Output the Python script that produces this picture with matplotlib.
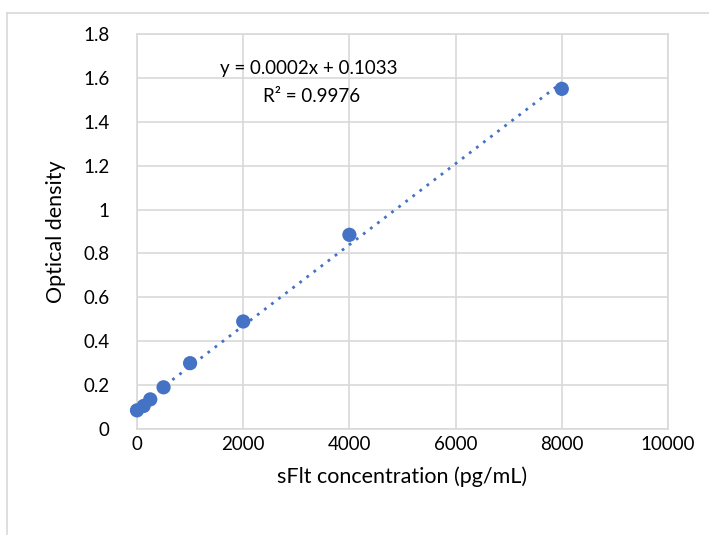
import numpy as np
import matplotlib
matplotlib.use("Agg")
import matplotlib.pyplot as plt
from matplotlib.lines import Line2D

# standard curve data
conc = [0, 125, 250, 500, 1000, 2000, 4000, 8000]
od = [0.085, 0.105, 0.135, 0.19, 0.30, 0.49, 0.885, 1.55]
eq_text = "y = 0.0002x + 0.1033"
r2_text = "R² = 0.9976"
x_ticks = [0, 2000, 4000, 6000, 8000, 10000]
y_ticks = [0, 0.2, 0.4, 0.6, 0.8, 1.0, 1.2, 1.4, 1.6, 1.8]
y_labels = ["0", "0.2", "0.4", "0.6", "0.8", "1", "1.2", "1.4", "1.6", "1.8"]

plt.rcParams['font.family'] = ['Lato', 'DejaVu Sans']
blue = '#4472C4'
grid = '#d9d9d9'

fig = plt.figure(figsize=(7.09, 5.35), dpi=100)
W, H = 709, 535
ax = fig.add_axes([137 / W, 1 - 429 / H, (668 - 137) / W, (429 - 34) / H])

# outer chart frame (clipped on right/bottom)
fig.add_artist(Line2D([7 / W, 7 / W], [0, 1 - 13 / H], color=grid, lw=1.2))
fig.add_artist(Line2D([7 / W, 1], [1 - 13 / H, 1 - 13 / H], color=grid, lw=1.2))

# linear trendline
k, b = np.polyfit(conc, od, 1)
xs = np.array([0, max(conc)])
ax.plot(xs, k * xs + b, color=blue, lw=2, linestyle=(0, (1, 2.2)), zorder=2)
ax.scatter(conc, od, s=105, color=blue, zorder=3, edgecolors='none', clip_on=False)

ax.text(3230, 1.645, eq_text, ha='center', va='center', fontsize=13.5)
ax.text(3290, 1.513, r2_text, ha='center', va='center', fontsize=13.5)

ax.set_xlim(0, 10000)
ax.set_ylim(0, 1.8)
ax.set_xticks(x_ticks)
ax.set_xticklabels([str(t) for t in x_ticks])
ax.set_yticks(y_ticks)
ax.set_yticklabels(y_labels)
ax.tick_params(length=0, labelsize=13.5)
ax.tick_params(axis='y', pad=20)
ax.tick_params(axis='x', pad=5)
ax.grid(True, color=grid, lw=1.2)
ax.set_axisbelow(True)
for s in ax.spines.values():
    s.set_color(grid)
    s.set_linewidth(1.2)

ax.set_xlabel('sFlt concentration (pg/mL)', fontsize=15.5, labelpad=10)
ax.set_ylabel('Optical density', fontsize=15.5, labelpad=12)

fig.savefig('out.png', dpi=100)
